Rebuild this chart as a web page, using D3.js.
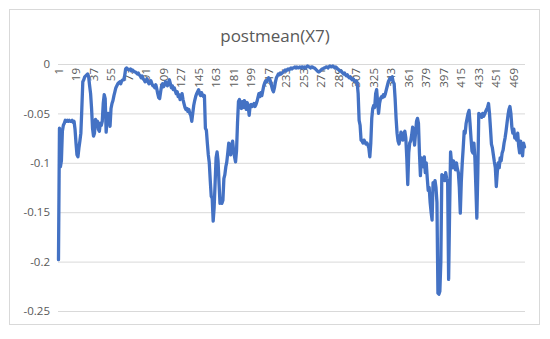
<!DOCTYPE html>
<html>
<head>
<meta charset="utf-8">
<script src="https://cdn.jsdelivr.net/npm/d3@7"></script>
<style>
  body { margin: 0; background: #fff; }
  text { font-family: "Open Sans", "Liberation Sans", sans-serif; fill: #595959; }
</style>
</head>
<body>
<div id="chart"></div>
<script>
// series values (index 1..480)
var postmean = [
  -0.198, -0.065, -0.104, -0.098, -0.068, -0.062, -0.060, -0.057, -0.058, -0.057,
  -0.058, -0.057, -0.058, -0.058, -0.057, -0.059, -0.058, -0.066, -0.080, -0.092,
  -0.094, -0.085, -0.078, -0.070, -0.045, -0.018, -0.016, -0.013, -0.012, -0.011,
  -0.010, -0.013, -0.022, -0.030, -0.045, -0.065, -0.073, -0.070, -0.056, -0.060,
  -0.058, -0.066, -0.068, -0.060, -0.062, -0.058, -0.040, -0.031, -0.035, -0.069,
  -0.055, -0.050, -0.052, -0.063, -0.045, -0.040, -0.037, -0.032, -0.028, -0.024,
  -0.022, -0.020, -0.019, -0.018, -0.020, -0.017, -0.016, -0.016, -0.012, -0.005,
  -0.004, -0.005, -0.006, -0.006, -0.005, -0.007, -0.006, -0.007, -0.008, -0.008,
  -0.009, -0.010, -0.009, -0.011, -0.012, -0.014, -0.012, -0.015, -0.016, -0.018,
  -0.017, -0.015, -0.018, -0.020, -0.019, -0.017, -0.020, -0.022, -0.022, -0.024,
  -0.021, -0.025, -0.030, -0.034, -0.035, -0.028, -0.022, -0.020, -0.023, -0.021,
  -0.018, -0.020, -0.022, -0.019, -0.016, -0.020, -0.024, -0.022, -0.026, -0.024,
  -0.027, -0.030, -0.028, -0.033, -0.031, -0.036, -0.034, -0.030, -0.036, -0.040,
  -0.044, -0.046, -0.045, -0.048, -0.046, -0.050, -0.052, -0.058, -0.050, -0.042,
  -0.037, -0.033, -0.030, -0.028, -0.026, -0.030, -0.032, -0.029, -0.031, -0.033,
  -0.032, -0.065, -0.067, -0.080, -0.092, -0.100, -0.118, -0.134, -0.136, -0.159,
  -0.145, -0.120, -0.095, -0.089, -0.098, -0.120, -0.141, -0.140, -0.141, -0.138,
  -0.116, -0.112, -0.104, -0.099, -0.090, -0.080, -0.085, -0.092, -0.082, -0.078,
  -0.088, -0.094, -0.099, -0.088, -0.060, -0.038, -0.036, -0.040, -0.045, -0.038,
  -0.044, -0.037, -0.040, -0.046, -0.039, -0.043, -0.052, -0.042, -0.041, -0.043,
  -0.042, -0.040, -0.043, -0.041, -0.038, -0.034, -0.030, -0.033, -0.029, -0.032,
  -0.027, -0.022, -0.019, -0.017, -0.018, -0.016, -0.014, -0.015, -0.018, -0.022,
  -0.026, -0.028, -0.024, -0.018, -0.014, -0.012, -0.010, -0.011, -0.009, -0.010,
  -0.009, -0.008, -0.007, -0.006, -0.007, -0.006, -0.005, -0.006, -0.005, -0.004,
  -0.005, -0.004, -0.004, -0.003, -0.004, -0.003, -0.004, -0.004, -0.003, -0.004,
  -0.003, -0.003, -0.004, -0.003, -0.004, -0.003, -0.002, -0.003, -0.003, -0.004,
  -0.003, -0.003, -0.004, -0.004, -0.005, -0.006, -0.007, -0.008, -0.008, -0.007,
  -0.006, -0.005, -0.005, -0.004, -0.004, -0.003, -0.003, -0.004, -0.003, -0.002,
  -0.003, -0.003, -0.002, -0.003, -0.004, -0.003, -0.004, -0.005, -0.006, -0.007,
  -0.007, -0.008, -0.009, -0.010, -0.009, -0.011, -0.012, -0.011, -0.013, -0.014,
  -0.013, -0.015, -0.016, -0.015, -0.017, -0.018, -0.017, -0.019, -0.030, -0.057,
  -0.062, -0.077, -0.078, -0.080, -0.077, -0.079, -0.081, -0.080, -0.082, -0.085,
  -0.094, -0.080, -0.055, -0.045, -0.042, -0.044, -0.030, -0.026, -0.038, -0.050,
  -0.040, -0.035, -0.033, -0.034, -0.031, -0.033, -0.030, -0.026, -0.022, -0.018,
  -0.016, -0.014, -0.016, -0.013, -0.018, -0.020, -0.035, -0.055, -0.070, -0.078,
  -0.081, -0.076, -0.069, -0.072, -0.077, -0.070, -0.068, -0.075, -0.095, -0.122,
  -0.090, -0.080, -0.078, -0.072, -0.064, -0.070, -0.082, -0.070, -0.058, -0.055,
  -0.060, -0.090, -0.113, -0.095, -0.097, -0.104, -0.094, -0.110, -0.100, -0.115,
  -0.128, -0.125, -0.140, -0.150, -0.158, -0.120, -0.122, -0.118, -0.125, -0.140,
  -0.232, -0.233, -0.230, -0.200, -0.112, -0.115, -0.113, -0.118, -0.110, -0.116,
  -0.120, -0.218, -0.150, -0.089, -0.100, -0.105, -0.098, -0.103, -0.107, -0.100,
  -0.106, -0.110, -0.125, -0.151, -0.120, -0.100, -0.085, -0.068, -0.070, -0.060,
  -0.055, -0.050, -0.047, -0.060, -0.075, -0.088, -0.090, -0.080, -0.095, -0.125,
  -0.156, -0.110, -0.050, -0.052, -0.051, -0.054, -0.050, -0.053, -0.051, -0.048,
  -0.046, -0.044, -0.040, -0.050, -0.065, -0.081, -0.085, -0.092, -0.099, -0.105,
  -0.124, -0.110, -0.100, -0.105, -0.095, -0.098, -0.090, -0.087, -0.080, -0.075,
  -0.068, -0.060, -0.052, -0.046, -0.043, -0.050, -0.064, -0.070, -0.066, -0.075,
  -0.072, -0.077, -0.070, -0.083, -0.090, -0.078, -0.085, -0.093, -0.080, -0.084
];

var xTickLabels = ["1", "19", "37", "55", "73", "91", "109", "127", "145", "163",
  "181", "199", "217", "235", "253", "271", "289", "307", "325", "343", "361",
  "379", "397", "415", "433", "451", "469"];
var yTicks = [0, -0.05, -0.1, -0.15, -0.2, -0.25];
var chartTitle = "postmean(X7)";

var svgWidth = 550;
var svgHeight = 339;

var plot = { left: 58, right: 525, top: 64, bottom: 311 };

var svg = d3.select("#chart")
  .append("svg")
  .attr("width", svgWidth)
  .attr("height", svgHeight);

// chart area border
svg.append("rect")
  .attr("x", 9.5)
  .attr("y", 9.5)
  .attr("width", 530)
  .attr("height", 315)
  .attr("fill", "#fff")
  .attr("stroke", "#d9d9d9")
  .attr("stroke-width", 1);

svg.append("text")
  .attr("x", 275)
  .attr("y", 42)
  .attr("text-anchor", "middle")
  .attr("font-size", "17px")
  .text(chartTitle);

var categories = postmean.map(function(d, i) { return String(i + 1); });

var xScale = d3.scaleBand()
  .domain(categories)
  .range([plot.left, plot.right])
  .padding(0);

var yScale = d3.scaleLinear()
  .domain([-0.25, 0])
  .range([plot.bottom, plot.top]);

// gridlines + y labels
var leftAxis = d3.axisLeft(yScale)
  .tickValues(yTicks)
  .tickSize(-(plot.right - plot.left))
  .tickPadding(8)
  .tickFormat(function(d) { return d === 0 ? "0" : String(d); });

var yAxisG = svg.append("g")
  .attr("transform", `translate(${plot.left}, 0)`)
  .call(leftAxis);
yAxisG.select(".domain").remove();
yAxisG.selectAll("line").attr("stroke", "#d9d9d9").attr("stroke-width", 1);
yAxisG.selectAll("text")
  .attr("font-size", "11.5px")
  .attr("fill", "#595959")
  .attr("font-family", "Open Sans, Liberation Sans, sans-serif");

// category axis sitting on y = 0
var topAxis = d3.axisBottom(xScale)
  .tickValues(xTickLabels)
  .tickSize(0)
  .tickPadding(0);

var xAxisG = svg.append("g")
  .attr("transform", `translate(0, ${yScale(0)})`)
  .call(topAxis);
xAxisG.select(".domain").remove();
xAxisG.selectAll("text")
  .attr("font-size", "11.5px")
  .attr("fill", "#6a6a6a")
  .attr("font-family", "Open Sans, Liberation Sans, sans-serif")
  .attr("text-anchor", "end")
  .attr("transform", "rotate(-90)")
  .attr("x", -4)
  .attr("y", 0)
  .attr("dy", "0.35em");

var line = d3.line()
  .x(function(d, i) { return xScale(categories[i]) + xScale.bandwidth() / 2; })
  .y(function(d) { return yScale(d); });

svg.append("path")
  .datum(postmean)
  .attr("d", line)
  .attr("fill", "none")
  .attr("stroke", "#4472c4")
  .attr("stroke-width", 3.3)
  .attr("stroke-linejoin", "round")
  .attr("stroke-linecap", "round");
</script>
</body>
</html>
